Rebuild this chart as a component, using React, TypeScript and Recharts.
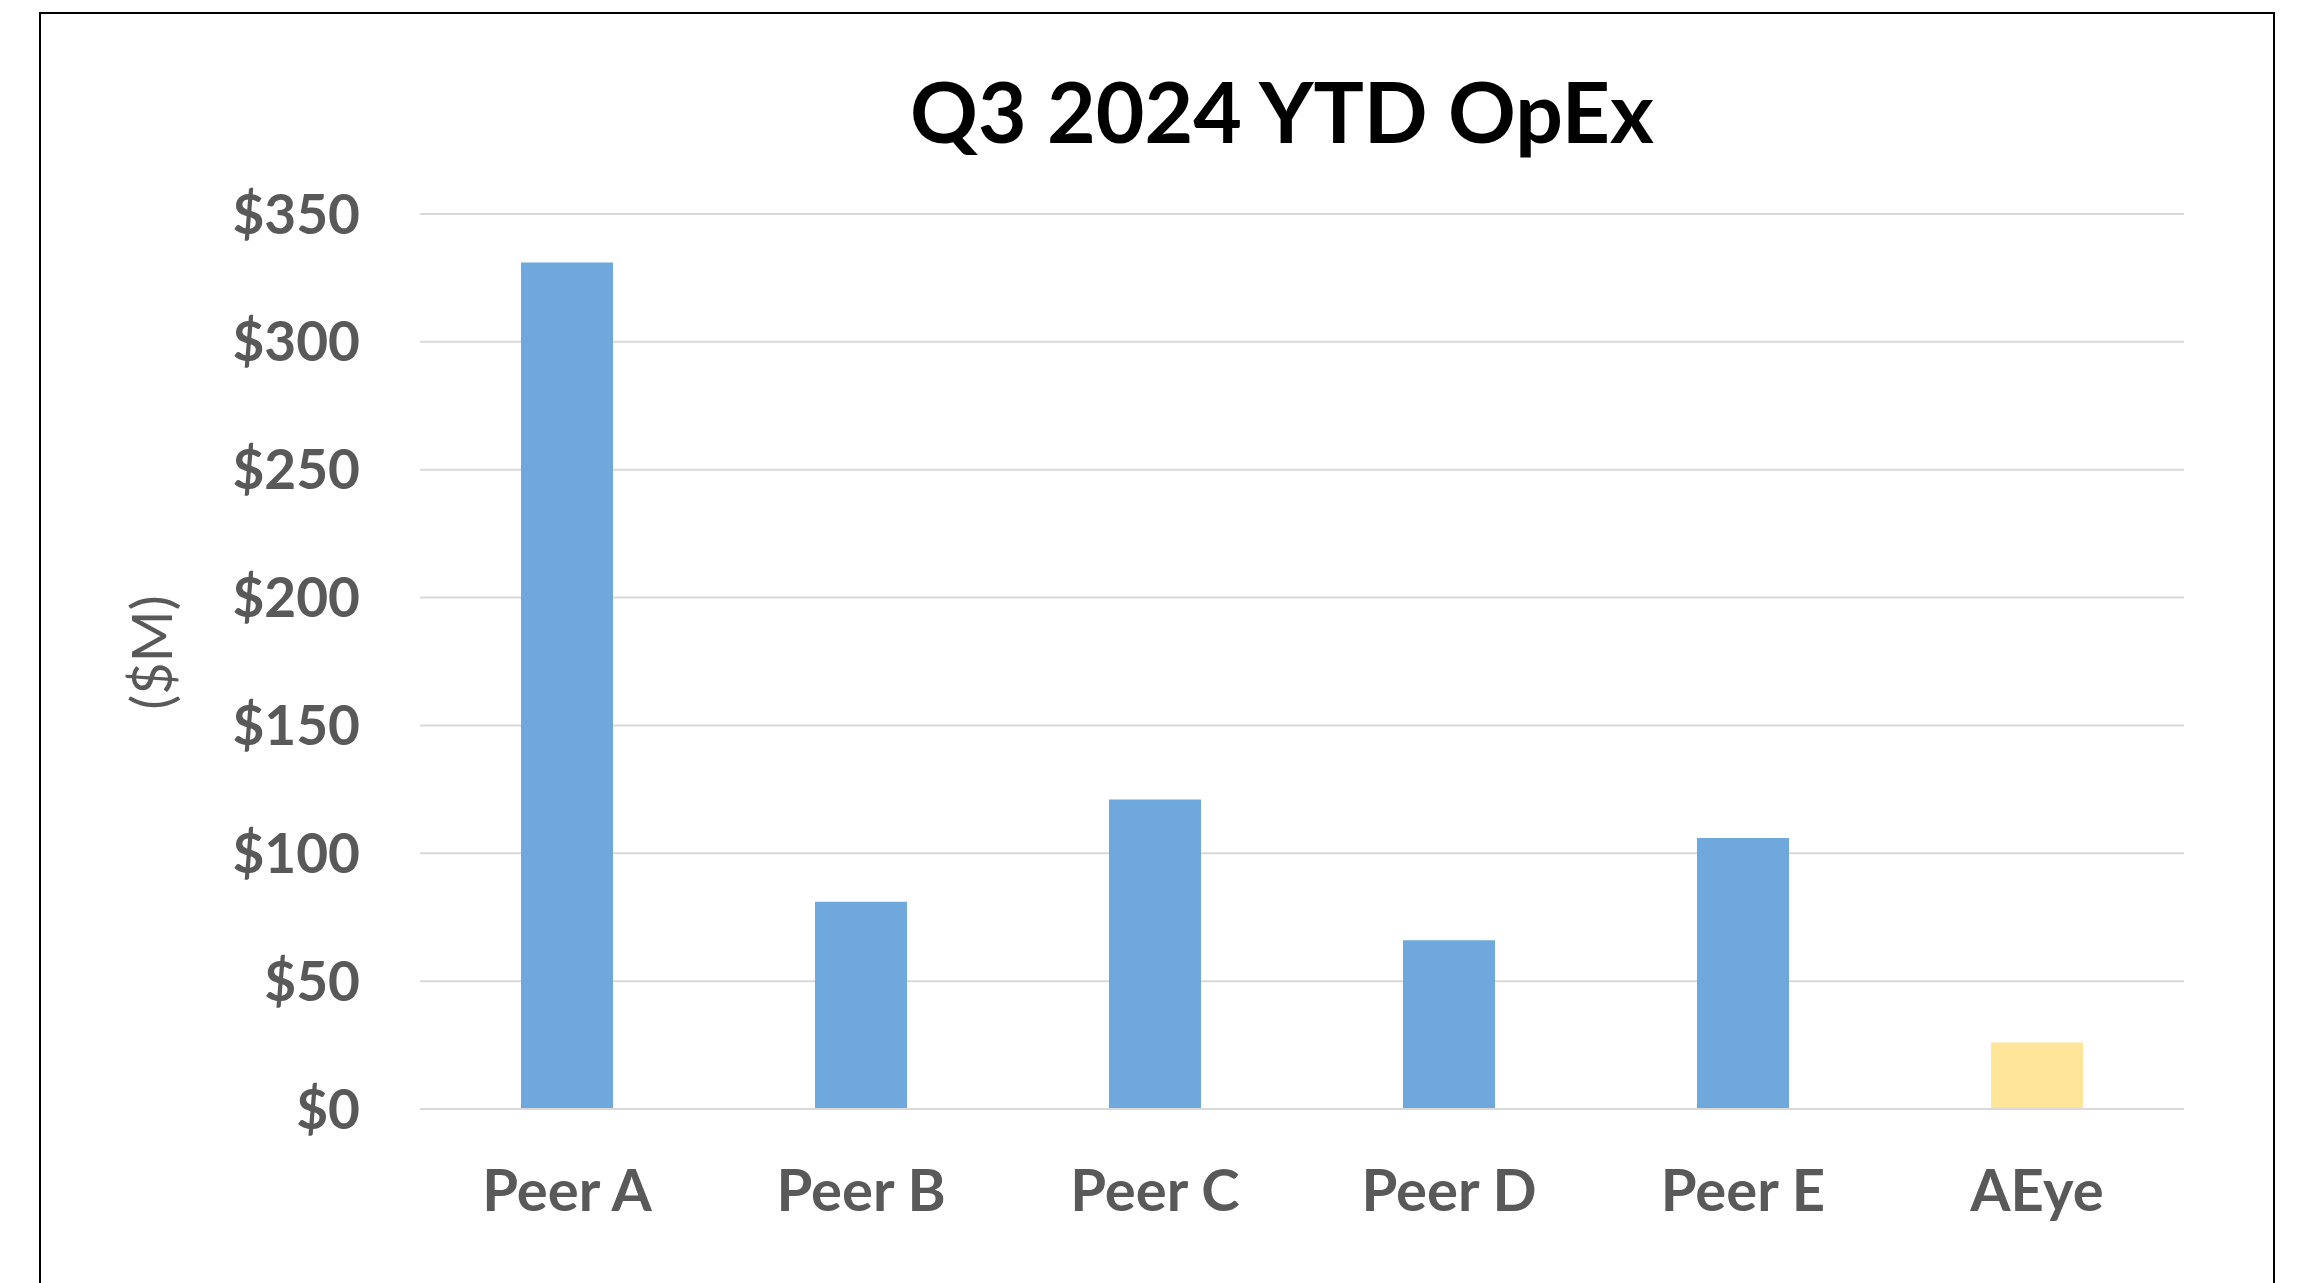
import React from "react";
import {
  BarChart,
  Bar,
  XAxis,
  YAxis,
  CartesianGrid,
  Cell,
  Label,
} from "recharts";

const categories = ["Peer A", "Peer B", "Peer C", "Peer D", "Peer E", "AEye"];
const opex = [331, 81, 121, 66, 106, 26];
const yTicks = [0, 50, 100, 150, 200, 250, 300, 350];
const highlightCategory = "AEye";

const chartData = categories.map((name, i) => ({ name, opex: opex[i] }));

const FONT = "Lato, 'Open Sans', sans-serif";
const GREY = "#595959";

const App: React.FC = () => {
  return (
    <div
      style={{
        position: "relative",
        width: 2299,
        height: 1283,
        margin: "-8px 0 0 -8px",
        overflow: "hidden",
        background: "#fff",
        fontFamily: FONT,
      }}
    >
      <div
        style={{
          position: "absolute",
          left: 39,
          top: 12,
          width: 2275 - 39,
          height: 1400,
          border: "2px solid #000",
          boxSizing: "border-box",
        }}
      />
      <div
        style={{
          position: "absolute",
          left: 782,
          top: 69,
          width: 1000,
          textAlign: "center",
          fontSize: 84,
          lineHeight: "84px",
          fontWeight: 700,
          color: "#000",
        }}
      >
        Q3 2024 YTD OpEx
      </div>
      <div style={{ position: "absolute", left: 0, top: 0 }}>
        <BarChart
          width={2299}
          height={1283}
          data={chartData}
          margin={{ top: 214, right: 115, left: 0, bottom: 0 }}
        >
          <CartesianGrid vertical={false} stroke="#D9D9D9" strokeWidth={2} />
          <XAxis
            dataKey="name"
            height={174}
            tickLine={false}
            axisLine={{ stroke: "#D9D9D9", strokeWidth: 2 }}
            tickMargin={55}
            tick={{ fill: GREY, fontSize: 58, fontWeight: 700, fontFamily: FONT }}
          />
          <YAxis
            width={420}
            domain={[0, 350]}
            ticks={yTicks}
            tickLine={false}
            axisLine={false}
            tickMargin={54}
            tickFormatter={(v: number) => `$${v}`}
            tick={{ fill: GREY, fontSize: 55, fontWeight: 700, fontFamily: FONT }}
          >
            <Label
              value="($M)"
              angle={-90}
              position="center"
              dx={-58}
              dy={-9}
              style={{ fill: GREY, fontSize: 56, fontFamily: FONT }}
            />
          </YAxis>
          <Bar dataKey="opex" barSize={92} isAnimationActive={false}>
            {chartData.map((d) => (
              <Cell
                key={d.name}
                fill={d.name === highlightCategory ? "#FFE599" : "#6FA8DC"}
              />
            ))}
          </Bar>
        </BarChart>
      </div>
    </div>
  );
};

export default App;
